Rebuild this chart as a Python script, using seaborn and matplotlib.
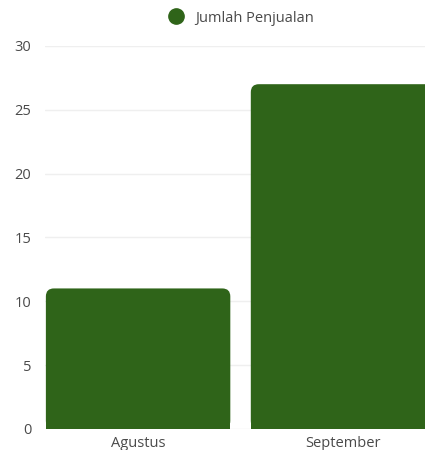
import matplotlib
matplotlib.use("Agg")
import matplotlib.pyplot as plt
import seaborn as sns
import pandas as pd
from matplotlib.patches import FancyBboxPatch, Rectangle
from matplotlib.lines import Line2D

# data
bulan = ["Agustus", "September"]
penjualan = [11, 27]
warna = "#2f6419"

df = pd.DataFrame({"Bulan": bulan, "Jumlah Penjualan": penjualan})

sns.set_style("white")
plt.rcParams["font.family"] = ["Open Sans", "DejaVu Sans"]

fig = plt.figure(figsize=(4.25, 4.5), dpi=100)
ax = fig.add_axes([0.106, 0.047, 0.894, 0.851])

sns.barplot(data=df, x="Bulan", y="Jumlah Penjualan", color=warna,
            width=0.9, saturation=1, ax=ax)

ax.set_ylim(0, 30)
ax.set_xlim(-0.454, 1.40)

# ganti bar biasa dengan bar yang sudut atasnya bulat
r_x = 0.039
aspect = 16.1
for p in list(ax.patches):
    x0, w, h = p.get_x(), p.get_width(), p.get_height()
    p.remove()
    ax.add_patch(FancyBboxPatch((x0, 0), w, h,
                                boxstyle=f"round,pad=0,rounding_size={r_x}",
                                mutation_aspect=aspect, fc=warna, ec="none",
                                zorder=3))
    ax.add_patch(Rectangle((x0, 0), w, h / 2, fc=warna, ec="none", zorder=3))

ax.set_yticks(range(0, 31, 5))
ax.grid(axis="y", color="#efefef", linewidth=1, zorder=0)
ax.set_axisbelow(True)
sns.despine(ax=ax, left=True, bottom=True, top=True, right=True)
ax.tick_params(axis="both", length=0, labelsize=10.5, labelcolor="#4a4a4a")
ax.tick_params(axis="y", pad=10)
ax.tick_params(axis="x", pad=5)
ax.set_xlabel("")
ax.set_ylabel("")

handle = Line2D([], [], marker="o", linestyle="none", markersize=11,
                markerfacecolor=warna, markeredgecolor=warna)
fig.legend([handle], ["Jumlah Penjualan"], loc="center",
           bbox_to_anchor=(0.56, 0.96), frameon=False, fontsize=10.5,
           labelcolor="#4a4a4a", handletextpad=0.3)

fig.savefig("out.png", dpi=100, facecolor="white")
